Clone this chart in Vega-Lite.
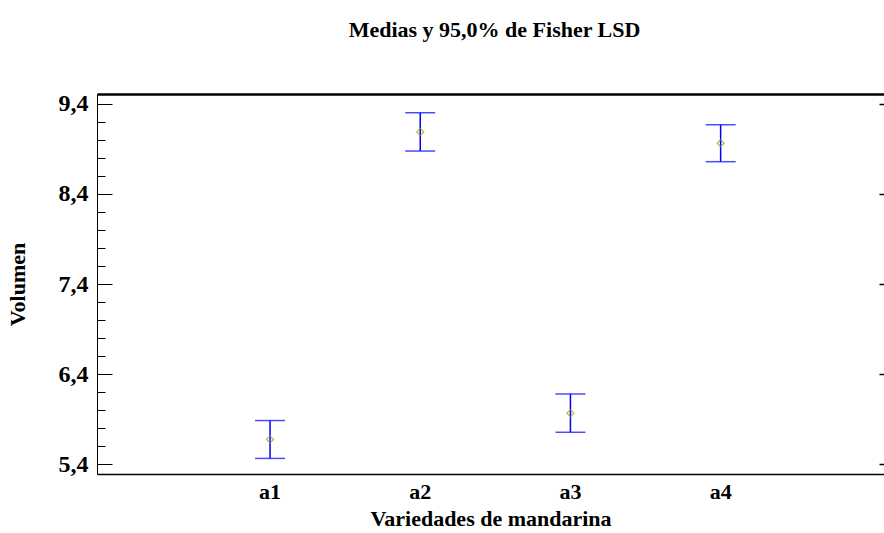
{
  "$schema": "https://vega.github.io/schema/vega-lite/v6.json",
  "width": 787,
  "height": 380,
  "autosize": {"type": "none"},
  "padding": {"left": 97, "top": 94, "right": 0, "bottom": 59},
  "background": "white",
  "config": {
    "view": {"stroke": null},
    "font": "Liberation Serif",
    "axis": {"grid": false, "labelFont": "Liberation Serif", "titleFont": "Liberation Serif", "labelFontWeight": "bold", "titleFontWeight": "bold", "labelColor": "black", "titleColor": "black", "domainColor": "black", "tickColor": "black"}
  },
  "title": {"text": "Medias y 95,0% de Fisher LSD", "font": "Liberation Serif", "fontSize": 22, "fontWeight": "bold", "color": "black", "offset": 50, "dx": 4, "anchor": "middle"},
  "data": {"values": [
    {"variedad": "a1", "media": 5.675, "inferior": 5.465, "superior": 5.885},
    {"variedad": "a2", "media": 9.087, "inferior": 8.875, "superior": 9.300},
    {"variedad": "a3", "media": 5.967, "inferior": 5.755, "superior": 6.180},
    {"variedad": "a4", "media": 8.962, "inferior": 8.757, "superior": 9.167}
  ]},
  "layer": [
    {
      "mark": {"type": "rule", "color": "#0000ff", "strokeWidth": 1.5},
      "encoding": {
        "x": {"field": "variedad", "type": "nominal", "scale": {"type": "band", "paddingInner": 0, "paddingOuter": 0.62, "align": 0.526},
          "axis": {"orient": "bottom", "title": "Variedades de mandarina", "labelAngle": 0, "ticks": false, "labelFontSize": 22, "titleFontSize": 22, "labelPadding": 7, "titlePadding": 6, "domainWidth": 1.5}},
        "y": {"field": "inferior", "type": "quantitative", "scale": {"domain": [5.292, 9.508], "nice": false, "zero": false},
          "axis": {"orient": "left", "title": "Volumen", "values": [5.4, 6.4, 7.4, 8.4, 9.4], "labelExpr": "replace(format(datum.value, '.1f'), '.', ',')", "tickSize": -15, "labelPadding": 24, "labelFontSize": 24, "titleFontSize": 22, "titlePadding": 29, "domainWidth": 1}},
        "y2": {"field": "superior"}
      }
    },
    {
      "mark": {"type": "tick", "color": "#0000ff", "thickness": 1.5, "size": 30},
      "encoding": {
        "x": {"field": "variedad", "type": "nominal", "axis": {"orient": "top", "title": null, "labels": false, "ticks": false, "domainWidth": 2.5}},
        "y": {"field": "inferior", "type": "quantitative",
          "axis": {"orient": "right", "title": null, "labels": false, "domain": false, "values": [5.4, 6.4, 7.4, 8.4, 9.4], "tickSize": -5, "tickWidth": 1.5}}
      }
    },
    {
      "mark": {"type": "tick", "color": "#0000ff", "thickness": 1.5, "size": 30},
      "encoding": {
        "x": {"field": "variedad", "type": "nominal", "axis": null},
        "y": {"field": "superior", "type": "quantitative",
          "axis": {"orient": "left", "title": null, "labels": false, "domain": false, "values": [5.6, 5.8, 6.0, 6.2, 6.6, 6.8, 7.0, 7.2, 7.6, 7.8, 8.0, 8.2, 8.6, 8.8, 9.0, 9.2], "tickSize": -8}}
      }
    },
    {
      "mark": {"type": "point", "shape": "diamond", "filled": false, "color": "#9a9a00", "strokeWidth": 1.2, "size": 50},
      "encoding": {
        "x": {"field": "variedad", "type": "nominal", "axis": null},
        "y": {"field": "media", "type": "quantitative", "axis": null}
      }
    }
  ],
  "resolve": {"scale": {"x": "shared", "y": "shared"}, "axis": {"x": "independent", "y": "independent"}}
}
